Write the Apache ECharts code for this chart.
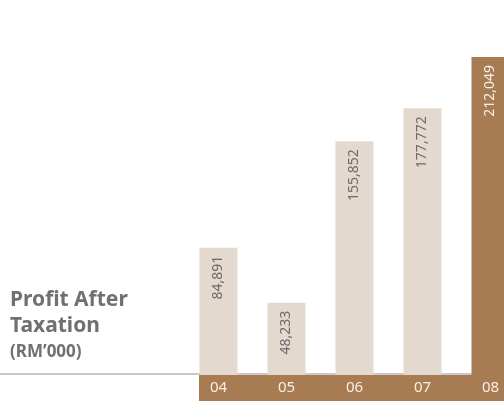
<!DOCTYPE html>
<html>
<head>
<meta charset="utf-8">
<script src="https://cdn.jsdelivr.net/npm/echarts@6/dist/echarts.min.js"></script>
<style>
  html, body { margin: 0; padding: 0; background: #ffffff; }
  #chart { width: 504px; height: 401px; }
</style>
</head>
<body>
<div id="chart"></div>
<script>
// Financial years and profit after taxation (RM'000)
var years = ['04', '05', '06', '07', '08'];
var profit = [84891, 48233, 155852, 177772, 212049];

var LIGHT = '#e4d9ce';
var BROWN = '#a87c53';

var chart = echarts.init(document.getElementById('chart'), null, { renderer: 'canvas' });

var barData = profit.map(function (v, i) {
  var last = i === profit.length - 1;
  return {
    value: v,
    itemStyle: { color: last ? BROWN : LIGHT },
    label: { color: last ? '#f6efe6' : '#6b6b6b' }
  };
});

chart.setOption({
  animation: false,
  title: {
    text: 'Profit After\nTaxation',
    subtext: "(RM\u2019000)",
    left: 10,
    top: 287,
    padding: 0,
    itemGap: 2,
    textStyle: {
      fontFamily: 'Noto Sans',
      fontWeight: 'bold',
      fontSize: 21,
      lineHeight: 26,
      color: '#707070'
    },
    subtextStyle: {
      fontFamily: 'Noto Sans',
      fontWeight: 'bold',
      fontSize: 17,
      lineHeight: 22,
      color: '#707070'
    }
  },
  // the plot runs past the right edge so the last bar is cut off
  grid: { left: 184.5, width: 340, top: 0, bottom: 26, outerBoundsMode: 'none' },
  xAxis: {
    type: 'category',
    data: years,
    z: 10,
    axisLine: { show: false },
    axisTick: { show: false },
    axisLabel: {
      color: '#f6efe6',
      fontFamily: 'Noto Sans',
      fontSize: 15,
      margin: 5
    }
  },
  yAxis: {
    type: 'value',
    min: 0,
    max: 250000,
    show: false,
    splitLine: { show: false }
  },
  graphic: [
    // grey rule along the baseline
    { type: 'rect', z: 0, shape: { x: 0, y: 373, width: 504, height: 2 }, style: { fill: '#c9c9c9' } },
    // brown band under the year labels
    { type: 'rect', z: 1, shape: { x: 199, y: 375, width: 305, height: 26 }, style: { fill: BROWN } }
  ],
  series: [{
    type: 'bar',
    data: barData,
    barWidth: 38,
    z: 2,
    label: {
      show: true,
      position: 'insideTop',
      rotate: 90,
      align: 'right',
      verticalAlign: 'middle',
      distance: 8,
      fontFamily: 'Noto Sans',
      fontSize: 14,
      formatter: function (p) { return p.value.toLocaleString('en-US'); }
    }
  }]
});
</script>
</body>
</html>
